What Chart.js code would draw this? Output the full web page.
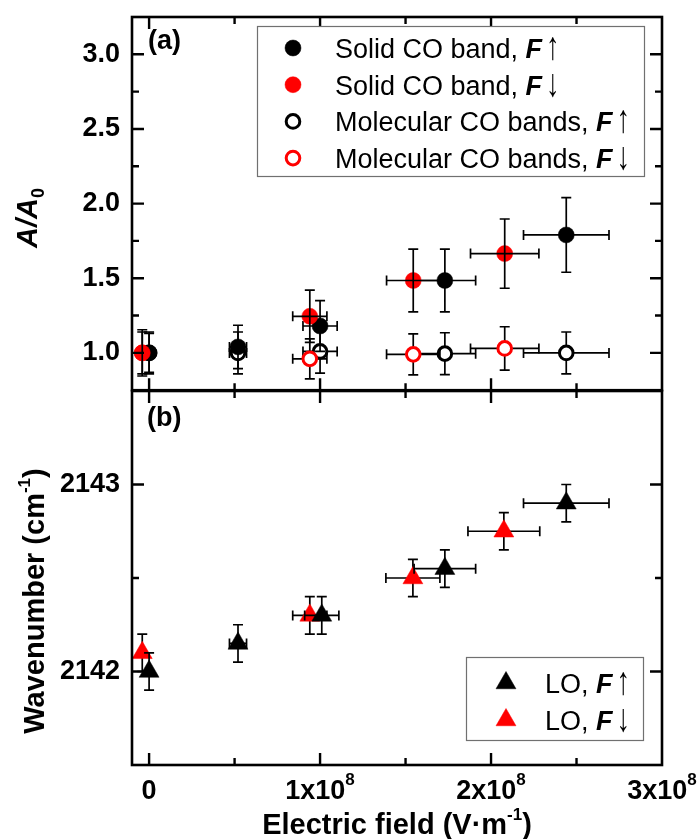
<!DOCTYPE html>
<html><head><meta charset="utf-8">
<script src="https://cdn.jsdelivr.net/npm/chart.js@4.4.0/dist/chart.umd.min.js"></script>
<style>
html,body{margin:0;padding:0;background:#fff;}
#wrap{position:relative;width:697px;height:839px;background:#fff;}
canvas{position:absolute;left:0;top:0;}
</style></head><body>
<div id="wrap"><canvas id="cb" width="697" height="839"></canvas><canvas id="ca" width="697" height="400"></canvas></div>
<script>
// ---------- data (panel a) ----------
const solidUpX      = [0, 0.52e8, 1.0e8, 1.73e8, 2.44e8];
const solidUpY      = [1.00, 1.04, 1.18, 1.485, 1.79];
const solidUpYErr   = [0.14, 0.145, 0.17, 0.21, 0.25];
const solidUpXErr   = [0, 0.05e8, 0.1e8, 0.18e8, 0.25e8];

const solidDownX    = [-0.04e8, 0.94e8, 1.545e8, 2.08e8];
const solidDownY    = [1.00, 1.245, 1.485, 1.665];
const solidDownYErr = [0.155, 0.175, 0.21, 0.232];
const solidDownXErr = [0, 0.1e8, 0.156e8, 0.2e8];

const molUpX        = [0, 0.52e8, 1.0e8, 1.73e8, 2.44e8];
const molUpY        = [1.00, 1.00, 1.01, 0.995, 1.00];
const molUpYErr     = [0.13, 0.14, 0.145, 0.14, 0.14];
const molUpXErr     = [0, 0.05e8, 0.1e8, 0.18e8, 0.25e8];

const molDownX      = [-0.04e8, 0.94e8, 1.545e8, 2.08e8];
const molDownY      = [1.00, 0.96, 0.99, 1.03];
const molDownYErr   = [0.14, 0.134, 0.137, 0.145];
const molDownXErr   = [0, 0.1e8, 0.156e8, 0.2e8];

// ---------- data (panel b) ----------
const loUpX         = [0, 0.52e8, 1.01e8, 1.73e8, 2.44e8];
const loUpY         = [2142.00, 2142.15, 2142.30, 2142.55, 2142.90];
const loUpYErr      = [0.1, 0.1, 0.1, 0.1, 0.1];
const loUpXErr      = [0, 0.05e8, 0.1e8, 0.18e8, 0.25e8];

const loDownX       = [-0.04e8, 0.94e8, 1.543e8, 2.075e8];
const loDownY       = [2142.10, 2142.30, 2142.50, 2142.75];
const loDownYErr    = [0.1, 0.1, 0.1, 0.1];
const loDownXErr    = [0, 0.1e8, 0.158e8, 0.21e8];

// ---------- axes / ticks ----------
const xMin = -1e7, xMax = 3e8;
const xMajor = [0, 1e8, 2e8, 3e8];
const xMinor = [0.5e8, 1.5e8, 2.5e8];
const xTickBase = ['0', '1x10', '2x10', '3x10'];
const xTickSup  = ['', '8', '8', '8'];
const yAMin = 0.75, yAMax = 3.25;
const yAMajor = [1.0, 1.5, 2.0, 2.5, 3.0];
const yAMinor = [1.25, 1.75, 2.25, 2.75];
const yBMin = 2141.5, yBMax = 2143.5;
const yBMajor = [2142, 2143];
const yBMinor = [2142.5];

// ---------- labels ----------
const legendA = [
  ['Solid CO band, ', 'F', '\u2191'],
  ['Solid CO band, ', 'F', '\u2193'],
  ['Molecular CO bands, ', 'F', '\u2191'],
  ['Molecular CO bands, ', 'F', '\u2193']
];
const legendB = [
  ['LO, ', 'F', '\u2191'],
  ['LO, ', 'F', '\u2193']
];

const FONT = '"Liberation Sans", Arial, Helvetica, sans-serif';
const RED = '#ff0000', BLACK = '#000000';

function pts(xs, ys){ return xs.map((x,i)=>({x:x, y:ys[i]})); }

function drawMarker(ctx, ds, x, y){
  const r = ds.pointRadius;
  ctx.save();
  ctx.beginPath();
  if (ds.pointStyle === 'triangle'){
    let a = 0;
    ctx.moveTo(x + Math.sin(a)*r, y - Math.cos(a)*r);
    a += 2*Math.PI/3; ctx.lineTo(x + Math.sin(a)*r, y - Math.cos(a)*r);
    a += 2*Math.PI/3; ctx.lineTo(x + Math.sin(a)*r, y - Math.cos(a)*r);
    ctx.closePath();
  } else {
    ctx.arc(x, y, r, 0, Math.PI*2);
  }
  ctx.fillStyle = ds.pointBackgroundColor; ctx.fill();
  if (ds.pointBorderWidth){ ctx.lineWidth = ds.pointBorderWidth; ctx.strokeStyle = ds.pointBorderColor; ctx.stroke(); }
  ctx.restore();
}

function runsWidth(ctx, runs){
  let w = 0;
  runs.forEach(r => { ctx.font = r.f; w += ctx.measureText(r.t).width * (r.sx || 1) + (r.gap || 0); });
  return w;
}
function drawRuns(ctx, runs, x, y){
  runs.forEach(r => {
    ctx.font = r.f;
    const sx = r.sx || 1, sy = r.sy || 1;
    x += (r.gap || 0);
    if (sx !== 1 || sy !== 1){
      ctx.save();
      ctx.translate(x, y + (r.dy||0));
      ctx.scale(sx, sy);
      ctx.fillText(r.t, 0, 0);
      ctx.restore();
    } else {
      ctx.fillText(r.t, x, y + (r.dy||0));
    }
    x += ctx.measureText(r.t).width * sx;
  });
}

function drawErr(chart, idx){
  const ds = chart.data.datasets[idx];
  const meta = chart.getDatasetMeta(idx);
  const xs = chart.scales[meta.xAxisID], ys = chart.scales[meta.yAxisID];
  const ctx = chart.ctx, cap = 5;
  ctx.save();
  ctx.strokeStyle = '#000'; ctx.lineWidth = 1.7;
  ctx.beginPath();
  ds.data.forEach((p,i)=>{
    const px = xs.getPixelForValue(p.x), py = ys.getPixelForValue(p.y);
    const ey = ds.yErr[i], ex = ds.xErr[i];
    if (ey){
      const y1 = ys.getPixelForValue(p.y + ey), y2 = ys.getPixelForValue(p.y - ey);
      ctx.moveTo(px, y1); ctx.lineTo(px, y2);
      ctx.moveTo(px-cap, y1); ctx.lineTo(px+cap, y1);
      ctx.moveTo(px-cap, y2); ctx.lineTo(px+cap, y2);
    }
    if (ex){
      const x1 = xs.getPixelForValue(p.x - ex), x2 = xs.getPixelForValue(p.x + ex);
      ctx.moveTo(x1, py); ctx.lineTo(x2, py);
      ctx.moveTo(x1, py-cap); ctx.lineTo(x1, py+cap);
      ctx.moveTo(x2, py-cap); ctx.lineTo(x2, py+cap);
    }
  });
  ctx.stroke();
  ctx.restore();
}

const panelCfg = {
  ca: {
    panel: '(a)', panelX: 148, panelY: 49,
    yMajor: yAMajor, yMinor: yAMinor,
    yTitle: { x: 37, cy: 218, runs: [
      {t:'A/A', f:'italic bold 29px '+FONT},
      {t:'0', f:'bold 18px '+FONT, dy: 7}
    ]},
    legend: { x: 257, y: 26, w: 387, h: 150, row0: 22, dy: 36.7, mx: 293, tx: 335, labels: legendA },
    xLabels: false
  },
  cb: {
    panel: '(b)', panelX: 147, panelY: 426,
    yMajor: yBMajor, yMinor: yBMinor,
    yTitle: { x: 44, cy: 601, runs: [
      {t:'Wavenumber (cm', f:'bold 29px '+FONT},
      {t:'-1', f:'bold 17px '+FONT, dy: -14},
      {t:')', f:'bold 29px '+FONT}
    ]},
    legend: { x: 466, y: 657, w: 177, h: 83, row0: 26, dy: 37, mx: 506, tx: 545, labels: legendB },
    xLabels: true,
    xTitle: { y: 834, runs: [
      {t:'Electric field (V\u00b7m', f:'bold 29px '+FONT},
      {t:'-1', f:'bold 17px '+FONT, dy: -14},
      {t:')', f:'bold 29px '+FONT}
    ]}
  }
};

const deco = {
  id: 'deco',
  beforeDatasetDraw(chart, args){
    const ds = chart.data.datasets[args.index];
    if (!ds.errOnTop) drawErr(chart, args.index);
  },
  afterDatasetDraw(chart, args){
    const ds = chart.data.datasets[args.index];
    if (ds.errOnTop) drawErr(chart, args.index);
  },
  afterDraw(chart){
    const cfg = panelCfg[chart.canvas.id];
    const ctx = chart.ctx, a = chart.chartArea;
    const xs = chart.scales.x, ys = chart.scales.y;
    ctx.save();
    // ticks (inside)
    ctx.strokeStyle = '#000'; ctx.lineWidth = 2.4; ctx.lineCap = 'butt';
    ctx.beginPath();
    const tk = (vals, len) => {
      vals.forEach(v => {
        const px = xs.getPixelForValue(v);
        if (px > a.left + 2 && px < a.right - 2){
          ctx.moveTo(px, a.top); ctx.lineTo(px, a.top + len);
          ctx.moveTo(px, a.bottom); ctx.lineTo(px, a.bottom - len);
        }
      });
    };
    const tky = (vals, len) => {
      vals.forEach(v => {
        const py = ys.getPixelForValue(v);
        if (py > a.top + 2 && py < a.bottom - 2){
          ctx.moveTo(a.left, py); ctx.lineTo(a.left + len, py);
          ctx.moveTo(a.right, py); ctx.lineTo(a.right - len, py);
        }
      });
    };
    tk(xMajor, 12); tk(xMinor, 7);
    tky(cfg.yMajor, 12); tky(cfg.yMinor, 7);
    ctx.stroke();
    // frame
    ctx.lineWidth = 2.6;
    ctx.strokeRect(a.left, a.top, a.right - a.left, a.bottom - a.top);

    ctx.fillStyle = '#000';
    ctx.textAlign = 'left'; ctx.textBaseline = 'alphabetic';
    // panel label
    ctx.font = 'bold 27px ' + FONT;
    ctx.fillText(cfg.panel, cfg.panelX, cfg.panelY);

    // y title (rotated)
    const yt = cfg.yTitle;
    ctx.save();
    ctx.translate(yt.x, yt.cy);
    ctx.rotate(-Math.PI/2);
    const w = runsWidth(ctx, yt.runs);
    drawRuns(ctx, yt.runs, -w/2, 0);
    ctx.restore();

    // x labels and title
    if (cfg.xLabels){
      xMajor.forEach((v,i) => {
        const px = xs.getPixelForValue(v);
        const runs = [{t: xTickBase[i], f: 'bold 27px '+FONT}];
        if (xTickSup[i]) runs.push({t: xTickSup[i], f: 'bold 17px '+FONT, dy: -14});
        const ww = runsWidth(ctx, runs);
        drawRuns(ctx, runs, px - ww/2, 799);
      });
      const xt = cfg.xTitle;
      const ww = runsWidth(ctx, xt.runs);
      drawRuns(ctx, xt.runs, (a.left + a.right)/2 - ww/2, xt.y);
    }

    // legend
    const L = cfg.legend;
    ctx.fillStyle = '#fff';
    ctx.fillRect(L.x, L.y, L.w, L.h);
    ctx.strokeStyle = '#707070'; ctx.lineWidth = 1.2;
    ctx.strokeRect(L.x + 0.5, L.y + 0.5, L.w, L.h);
    chart.data.datasets.forEach((ds, i) => {
      const cy = L.y + L.row0 + i * L.dy;
      drawMarker(ctx, ds, L.mx, cy);
      const lab = L.labels[i];
      ctx.fillStyle = '#000';
      drawRuns(ctx, [
        {t: lab[0], f: '27px '+FONT},
        {t: lab[1], f: 'italic bold 27px '+FONT},
        {t: lab[2], f: '27px '+FONT, sx: 1.0, sy: 1.45, gap: 4, dy: 1}
      ], L.tx, cy + 10);
    });
    ctx.restore();
  }
};

function yAxis(min, max, major, fmt){
  return {
    type: 'linear', position: 'left', min: min, max: max,
    afterBuildTicks: s => { s.ticks = major.map(v => ({value: v})); },
    afterFit: s => { s.width = 132; s.paddingTop = 0; s.paddingBottom = 0; },
    grid: { display: false, drawTicks: false },
    border: { display: false },
    ticks: { padding: 12, color: '#000', font: { family: FONT, weight: 'bold', size: 27 }, callback: fmt }
  };
}

Chart.defaults.devicePixelRatio = 1;

// panel (a)
new Chart(document.getElementById('ca'), {
  type: 'scatter',
  data: { datasets: [
    { label: 'Solid CO band, F up', data: pts(solidUpX, solidUpY), yErr: solidUpYErr, xErr: solidUpXErr, errOnTop: true,
      pointStyle: 'circle', pointRadius: 8, pointBackgroundColor: BLACK, pointBorderColor: BLACK, pointBorderWidth: 0.5, order: 1 },
    { label: 'Solid CO band, F down', data: pts(solidDownX, solidDownY), yErr: solidDownYErr, xErr: solidDownXErr, errOnTop: true,
      pointStyle: 'circle', pointRadius: 8, pointBackgroundColor: RED, pointBorderColor: RED, pointBorderWidth: 0.5, order: 0 },
    { label: 'Molecular CO bands, F up', data: pts(molUpX, molUpY), yErr: molUpYErr, xErr: molUpXErr, errOnTop: false,
      pointStyle: 'circle', pointRadius: 6.8, pointBackgroundColor: '#ffffff', pointBorderColor: BLACK, pointBorderWidth: 3, order: 3 },
    { label: 'Molecular CO bands, F down', data: pts(molDownX, molDownY), yErr: molDownYErr, xErr: molDownXErr, errOnTop: false,
      pointStyle: 'circle', pointRadius: 6.8, pointBackgroundColor: '#ffffff', pointBorderColor: RED, pointBorderWidth: 3, order: 2 }
  ]},
  options: {
    responsive: false, animation: false, devicePixelRatio: 1,
    layout: { padding: { left: 0, right: 35, top: 17, bottom: 9 } },
    plugins: { legend: { display: false }, tooltip: { enabled: false } },
    scales: {
      x: { type: 'linear', min: xMin, max: xMax, display: false },
      y: yAxis(yAMin, yAMax, yAMajor, v => Number(v).toFixed(1))
    }
  },
  plugins: [deco]
});

// panel (b)
new Chart(document.getElementById('cb'), {
  type: 'scatter',
  data: { datasets: [
    { label: 'LO, F up', data: pts(loUpX, loUpY), yErr: loUpYErr, xErr: loUpXErr, errOnTop: false,
      pointStyle: 'triangle', pointRadius: 11.5, pointBackgroundColor: BLACK, pointBorderColor: BLACK, pointBorderWidth: 0.5, order: 0 },
    { label: 'LO, F down', data: pts(loDownX, loDownY), yErr: loDownYErr, xErr: loDownXErr, errOnTop: false,
      pointStyle: 'triangle', pointRadius: 11.5, pointBackgroundColor: RED, pointBorderColor: RED, pointBorderWidth: 0.5, order: 1 }
  ]},
  options: {
    responsive: false, animation: false, devicePixelRatio: 1,
    layout: { padding: { left: 0, right: 35, top: 391, bottom: 0 } },
    plugins: { legend: { display: false }, tooltip: { enabled: false } },
    scales: {
      x: { type: 'linear', min: xMin, max: xMax,
        afterFit: s => { s.height = 74; s.paddingLeft = 0; s.paddingRight = 0; },
        grid: { display: false, drawTicks: false }, border: { display: false },
        ticks: { display: false } },
      y: yAxis(yBMin, yBMax, yBMajor, v => String(v))
    }
  },
  plugins: [deco]
});
</script>
</body></html>
